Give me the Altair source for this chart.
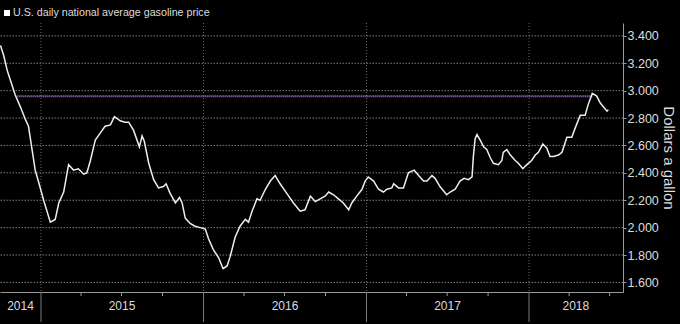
import altair as alt
import pandas as pd

# ---------------- data ----------------
dates = [
    "2014-10-02", "2014-10-09", "2014-10-17", "2014-10-24", "2014-11-04", "2014-11-16",
    "2014-11-27", "2014-12-04", "2014-12-12", "2014-12-19", "2014-12-27", "2015-01-07",
    "2015-01-22", "2015-02-02", "2015-02-10", "2015-02-21", "2015-03-04", "2015-03-15",
    "2015-03-26", "2015-04-07", "2015-04-14", "2015-04-22", "2015-05-03", "2015-05-14",
    "2015-05-25", "2015-06-06", "2015-06-15", "2015-06-28", "2015-07-09", "2015-07-17",
    "2015-07-28", "2015-08-10", "2015-08-16", "2015-08-21", "2015-08-31", "2015-09-11",
    "2015-09-22", "2015-10-03", "2015-10-09", "2015-10-18", "2015-10-30", "2015-11-08",
    "2015-11-14", "2015-11-21", "2015-12-02", "2015-12-13", "2015-12-25", "2016-01-05",
    "2016-01-12", "2016-01-23", "2016-02-04", "2016-02-14", "2016-02-23", "2016-03-01",
    "2016-03-12", "2016-03-23", "2016-04-04", "2016-04-11", "2016-04-19", "2016-04-30",
    "2016-05-07", "2016-05-19", "2016-05-30", "2016-06-10", "2016-06-21", "2016-07-06",
    "2016-07-21", "2016-08-05", "2016-08-16", "2016-08-28", "2016-09-08", "2016-09-19",
    "2016-09-30", "2016-10-08", "2016-10-19", "2016-10-30", "2016-11-10", "2016-11-22",
    "2016-11-29", "2016-12-10", "2016-12-22", "2016-12-29", "2017-01-05", "2017-01-17",
    "2017-01-28", "2017-02-08", "2017-02-16", "2017-02-27", "2017-03-03", "2017-03-14",
    "2017-03-25", "2017-04-05", "2017-04-18", "2017-04-28", "2017-05-09", "2017-05-17",
    "2017-05-28", "2017-06-04", "2017-06-15", "2017-06-30", "2017-07-08", "2017-07-19",
    "2017-07-30", "2017-08-08", "2017-08-18", "2017-08-26", "2017-08-29", "2017-09-02",
    "2017-09-06", "2017-09-13", "2017-09-21", "2017-09-28", "2017-10-06", "2017-10-13",
    "2017-10-24", "2017-11-01", "2017-11-04", "2017-11-12", "2017-11-20", "2017-12-01",
    "2017-12-08", "2017-12-18", "2017-12-27", "2018-01-07", "2018-01-15", "2018-01-22",
    "2018-02-01", "2018-02-10", "2018-02-17", "2018-02-25", "2018-03-08", "2018-03-16",
    "2018-03-27", "2018-04-07", "2018-04-15", "2018-04-26", "2018-05-07", "2018-05-14",
    "2018-05-23", "2018-06-02", "2018-06-10", "2018-06-25", "2018-06-28",
]
prices = [
    3.33, 3.26, 3.15, 3.08, 2.97, 2.88,
    2.79, 2.74, 2.57, 2.42, 2.33, 2.20,
    2.04, 2.06, 2.18, 2.26, 2.46, 2.42,
    2.43, 2.39, 2.40, 2.49, 2.64, 2.69,
    2.74, 2.75, 2.81, 2.78, 2.77, 2.77,
    2.71, 2.59, 2.67, 2.63, 2.47, 2.35,
    2.29, 2.30, 2.32, 2.25, 2.18, 2.22,
    2.18, 2.07, 2.03, 2.01, 2.00, 1.99,
    1.92, 1.84, 1.78, 1.70, 1.72, 1.79,
    1.93, 2.01, 2.06, 2.04, 2.12, 2.21,
    2.20, 2.28, 2.34, 2.38, 2.32, 2.25,
    2.18, 2.12, 2.13, 2.23, 2.19, 2.21,
    2.23, 2.26, 2.24, 2.21, 2.18, 2.13,
    2.18, 2.23, 2.28, 2.34, 2.37, 2.34,
    2.28, 2.26, 2.28, 2.29, 2.32, 2.29,
    2.29, 2.40, 2.42, 2.38, 2.34, 2.34,
    2.38, 2.36, 2.30, 2.24, 2.26, 2.28,
    2.34, 2.36, 2.35, 2.37, 2.52, 2.65,
    2.68, 2.64, 2.59, 2.57, 2.51, 2.47,
    2.46, 2.49, 2.55, 2.57, 2.53, 2.49,
    2.47, 2.43, 2.46, 2.49, 2.53, 2.55,
    2.61, 2.58, 2.52, 2.52, 2.53, 2.55,
    2.66, 2.66, 2.73, 2.82, 2.82, 2.90,
    2.98, 2.96, 2.91, 2.85, 2.86,
]

legend_label = ["U.S. daily national average gasoline price"]
y_title = "Dollars a gallon"
y_tick_values = [1.6, 1.8, 2.0, 2.2, 2.4, 2.6, 2.8, 3.0, 3.2, 3.4]

year_boundaries = ["2015-01-01", "2016-01-01", "2017-01-01", "2018-01-01"]
quarter_ticks = [
    "2015-04-01", "2015-07-01", "2015-10-01",
    "2016-04-01", "2016-07-01", "2016-10-01",
    "2017-04-01", "2017-07-01", "2017-10-01",
    "2018-04-01", "2018-07-01",
]
year_labels = ["2014", "2015", "2016", "2017", "2018"]
year_label_dates = ["2014-11-16", "2015-07-02", "2016-07-02", "2017-07-02", "2018-04-16"]

ref_start = ["2014-11-09"]
ref_end = ["2018-05-23"]
ref_value = [2.96]

# ---------------- layout ----------------
W, H = 623, 269
FONT = "Liberation Sans"
GRID = "#6a6a6a"
HGRID = "#7e7e7e"
AXIS = "#9a9a9a"
TXT = "#dcdcdc"

x_scale = alt.Scale(domain=[alt.DateTime(year=2014, month=10, date=1),
                            alt.DateTime(year=2018, month=7, date=31)])
y_scale = alt.Scale(domain=[1.53, 3.494], nice=False, zero=False)

x_axis = alt.Axis(domain=True, domainColor=AXIS, ticks=False, labels=False,
                  grid=False, title=None)
y_axis = alt.Axis(orient="right", values=y_tick_values, format=".3f",
                  grid=False, labelOverlap=False, labelBound=False,
                  domainColor=AXIS, tickColor=AXIS, tickSize=3,
                  labelColor=TXT, labelFont=FONT, labelFontSize=12.5,
                  labelPadding=1, title=y_title, titleAngle=90,
                  titleFont=FONT, titleFontSize=15, titleFontWeight="normal",
                  titleColor=TXT, titlePadding=2)

line_df = pd.DataFrame({"date": dates, "price": prices})
bound_df = pd.DataFrame({"date": year_boundaries})
qtr_df = pd.DataFrame({"date": quarter_ticks})
ylab_df = pd.DataFrame({"date": year_label_dates, "label": year_labels})
ref_df = pd.DataFrame({"date": ref_start, "date2": ref_end, "price": ref_value})
leg_df = pd.DataFrame({"t": legend_label})
hgrid_df = pd.DataFrame({"price": y_tick_values})

X = lambda: alt.X("date:T", scale=x_scale, axis=x_axis)
Y = lambda: alt.Y("price:Q", scale=y_scale, axis=y_axis)

line = alt.Chart(line_df).mark_line(color="#eeeeee", strokeWidth=1.5).encode(
    x=X(), y=Y(),
)
hgrid = alt.Chart(hgrid_df).mark_rule(color=HGRID, strokeDash=[1.5, 1.5], strokeWidth=1).encode(
    y=Y(),
)
grid_v = alt.Chart(bound_df).mark_rule(color=GRID, strokeDash=[1, 2], strokeWidth=1).encode(
    x=X(), y=alt.value(0), y2=alt.value(H),
)
bound_ticks = alt.Chart(bound_df).mark_rule(color="#7a7a7a", strokeWidth=1).encode(
    x=X(), y=alt.value(H), y2=alt.value(H + 30),
)
qtr = alt.Chart(qtr_df).mark_rule(color=AXIS, strokeWidth=1).encode(
    x=X(), y=alt.value(H), y2=alt.value(H + 4),
)
ylabels = alt.Chart(ylab_df).mark_text(font=FONT, fontSize=12, color=TXT,
                                       baseline="middle", align="center").encode(
    x=X(), y=alt.value(H + 14), text="label:N",
)
ref = alt.Chart(ref_df).mark_rule(color="#b47cf0", strokeDash=[1, 1], strokeWidth=2).encode(
    x=X(), x2="date2:T", y=Y(),
)
leg_sq = alt.Chart(leg_df).mark_square(color="#ffffff", size=36, opacity=1).encode(
    x=alt.value(7), y=alt.value(-10),
)
leg_txt = alt.Chart(leg_df).mark_text(font=FONT, fontSize=10.7, color=TXT,
                                      align="left", baseline="middle").encode(
    x=alt.value(13), y=alt.value(-10), text="t:N",
)

chart = alt.layer(hgrid, grid_v, bound_ticks, qtr, ylabels, ref, line, leg_sq, leg_txt).properties(
    width=W, height=H,
    autosize=alt.AutoSizeParams(type="none"),
    padding={"left": 0, "top": 23, "right": 57, "bottom": 32},
    background="#000000",
).configure_view(stroke=None)

chart.save("out.html", embed_options={"renderer": "svg", "actions": False})
